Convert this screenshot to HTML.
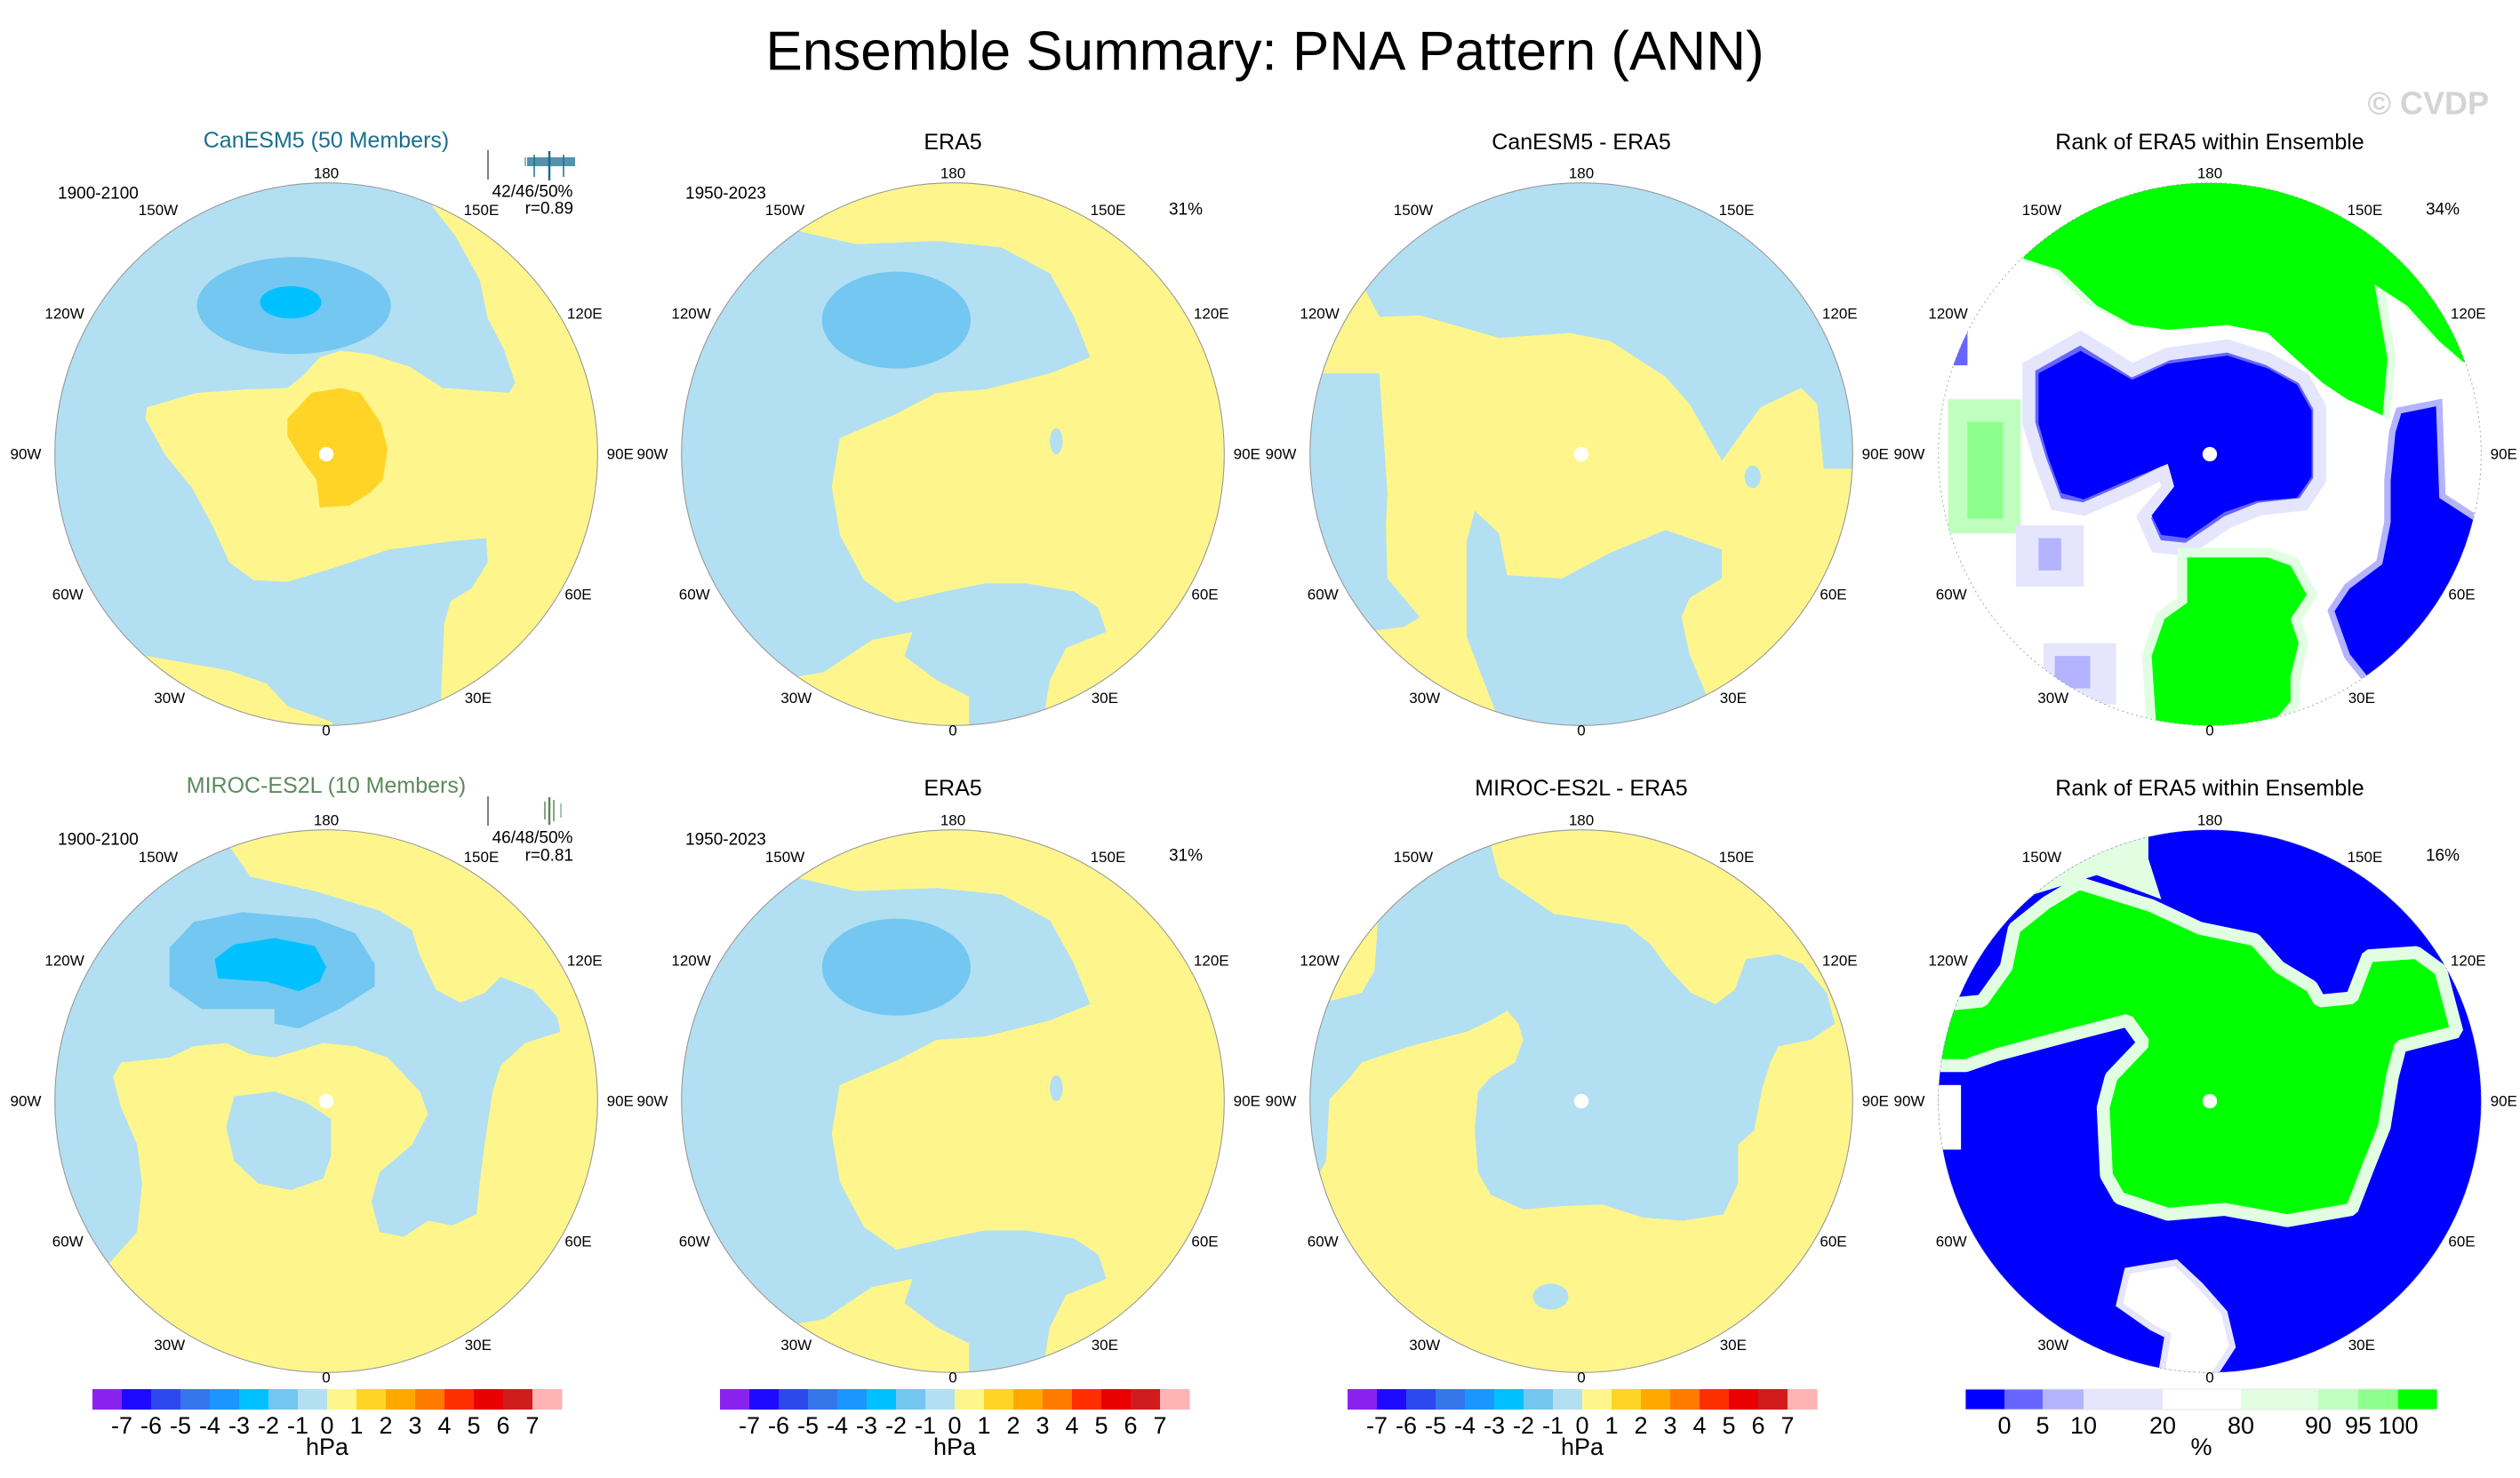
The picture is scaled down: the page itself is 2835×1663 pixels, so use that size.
<!DOCTYPE html>
<html><head><meta charset="utf-8">
<style>
html,body{margin:0;padding:0;background:#fff;}
svg{display:block;font-family:"Liberation Sans",Arial,sans-serif;}
.lon{font-size:17px;fill:#000;text-anchor:middle;dominant-baseline:central;}
.ptitle{font-size:25px;text-anchor:middle;dominant-baseline:central;}
.small{font-size:19px;fill:#000;dominant-baseline:central;}
.cbl{font-family:"Liberation Sans Narrow","Liberation Sans",sans-serif;font-size:27px;text-anchor:middle;dominant-baseline:central;fill:#000;}
</style></head>
<body>
<svg id="fig" width="2835" height="1663" viewBox="0 0 2835 1663" xmlns="http://www.w3.org/2000/svg">
<defs>
<clipPath id="cc"><circle cx="0" cy="0" r="168"/></clipPath>
</defs>
<text x="1423" y="58" font-size="62" text-anchor="middle" dominant-baseline="central">Ensemble Summary: PNA Pattern (ANN)</text>
<text x="2800" y="116" font-size="36" font-weight="bold" fill="#d4d4d4" text-anchor="end" dominant-baseline="central">© CVDP</text>

<g transform="translate(367,511) scale(1.8173)">
<g clip-path="url(#cc)">
<rect x="-170" y="-170" width="340" height="340" fill="#b3dff2"/>
<polygon fill="#fef68c" points="66,-200 66,-153 80,-135 95,-108 100,-84 110,-65 117,-44 113,-38 72,-41 52,-54 27,-62 9,-64 -4,-60 -14,-49 -24,-41 -50,-40 -80,-38 -111,-29 -112,-22 -100,0 -83,21 -70,45 -60,67 -45,78 -24,79 6,70 39,59 77,54 99,52 100,67 90,83 77,91 73,105 72,129 71,151 75,200 200,200 200,-200"/>
<polygon fill="#fef68c" points="-200,125 -111,125 -60,134 -37,142 -24,156 4,166 4,200 -200,200"/>
<polygon fill="#ffd426" points="-24,-22 -9,-38 9,-41 21,-38 34,-19 38,-3 35,16 27,24 14,32 -4,33 -6,16 -14,5 -24,-11"/>
<ellipse cx="-20" cy="-92" rx="60" ry="30" fill="#73c7f1"/>
<ellipse cx="-22" cy="-94" rx="19" ry="10" fill="#00c0ff"/>
<circle cx="0" cy="0" r="4.5" fill="#fff"/>
</g>
<circle cx="0" cy="0" r="168" fill="none" stroke="#999" stroke-width="0.6"/>
</g>

<g transform="translate(1072,511) scale(1.8173)">
<g clip-path="url(#cc)">
<rect x="-170" y="-170" width="340" height="340" fill="#fef68c"/>
<polygon fill="#b3dff2" points="-200,-200 -112,-200 -112,-156 -95,-138 -60,-130 -10,-132 30,-128 60,-112 75,-85 85,-60 60,-50 20,-40 -10,-38 -35,-25 -70,-10 -75,20 -70,50 -55,78 -35,92 -5,85 20,80 45,80 75,85 90,95 95,110 70,120 60,140 55,170 10,170 10,150 -10,140 -30,125 -25,110 -50,115 -80,135 -110,140 -200,140"/>
<ellipse cx="-35" cy="-83" rx="46" ry="30" fill="#73c7f1"/>
<ellipse cx="64" cy="-8" rx="4" ry="8" fill="#b3dff2"/>
</g>
<circle cx="0" cy="0" r="168" fill="none" stroke="#999" stroke-width="0.6"/>
</g>

<g transform="translate(1779,511) scale(1.8173)">
<g clip-path="url(#cc)">
<rect x="-170" y="-170" width="340" height="340" fill="#fef68c"/>
<polygon fill="#b3dff2" points="-200,-200 -200,-102 -134,-102 -125,-85 -100,-86 -51,-72 -7,-75 18,-70 52,-48 67,-31 87,4 111,-29 136,-41 146,-31 150,9 200,9 200,-200"/>
<polygon fill="#b3dff2" points="-200,-50 -125,-50 -120,25 -121,44 -120,77 -100,101 -110,107 -135,110 -200,110"/>
<polygon fill="#b3dff2" points="-51,200 -51,165 -71,113 -71,54 -66,35 -51,49 -46,75 -12,77 18,61 52,47 87,59 87,77 67,89 62,101 67,124 77,148 80,200"/>
<ellipse cx="106" cy="14" rx="5" ry="7" fill="#b3dff2"/>
<circle cx="0" cy="0" r="4.5" fill="#fff"/>
</g>
<circle cx="0" cy="0" r="168" fill="none" stroke="#999" stroke-width="0.6"/>
</g>

<g transform="translate(2486,511) scale(1.8173)">
<g clip-path="url(#cc)">
<rect x="-170" y="-170" width="340" height="340" fill="#fff"/>
<rect x="-162" y="-34" width="45" height="83" fill="#c0ffc0"/>
<rect x="-150" y="-20" width="22" height="60" fill="#8dff8d"/>
<rect x="-120" y="44" width="42" height="38" fill="#e5e5fe"/>
<rect x="-106" y="52" width="14" height="20" fill="#b3b3ff"/>
<rect x="-103" y="117" width="45" height="38" fill="#e5e5fe"/>
<rect x="-96" y="125" width="22" height="20" fill="#b3b3ff"/>
<rect x="-160" y="-85" width="10" height="30" fill="#6666ff"/>
<polygon fill="#c0ffc0" stroke="#e2fee2" stroke-width="10" points="-135,-200 -120,-126 -96,-119 -73,-97 -50,-85 -26,-82 11,-85 36,-80 52,-67 72,-49 87,-39 107,-29 110,-59 102,-110 122,-97 142,-75 157,-62 200,-62 200,-200"/>
<polygon fill="#00ff00" points="-130,-200 -115,-121 -93,-114 -70,-92 -48,-80 -26,-77 11,-80 36,-75 50,-62 70,-44 85,-34 107,-24 110,-59 102,-105 122,-92 142,-70 157,-57 200,-57 200,-200"/>
<polygon fill="#6666ff" stroke="#e5e5fe" stroke-width="8" points="-112,-54 -80,-72 -48,-52 -26,-62 11,-67 36,-59 58,-47 68,-29 68,16 58,31 31,34 11,42 -14,59 -33,57 -41,39 -26,21 -28,11 -48,21 -78,34 -95,31 -105,4 -112,-19"/>
<polygon fill="#0000ff" points="-106,-50 -80,-64 -48,-46 -26,-56 11,-61 36,-53 54,-43 63,-27 63,14 54,27 29,29 9,36 -14,52 -30,50 -36,38 -22,20 -26,6 -48,15 -78,28 -92,24 -100,2 -106,-19"/>
<polygon fill="#0000ff" stroke="#b3b3ff" stroke-width="4" points="117,-27 142,-32 144,26 164,39 200,60 200,170 97,140 85,125 75,97 85,82 105,67 110,42 110,16 113,-14"/>
<polygon fill="#8dff8d" stroke="#e2fee2" stroke-width="12" points="-14,64 36,64 50,69 60,87 50,102 55,117 50,138 50,153 36,170 -33,170 -36,125 -28,102 -14,92"/>
<polygon fill="#00ff00" points="-14,64 36,64 50,69 60,87 50,102 55,117 50,138 50,153 36,170 -33,170 -36,125 -28,102 -14,92"/>
<circle cx="0" cy="0" r="4.5" fill="#fff"/>
</g>
<circle cx="0" cy="0" r="168" fill="none" stroke="#999" stroke-width="0.5" stroke-dasharray="1,2"/>
</g>

<g transform="translate(367,1239) scale(1.8173)">
<g clip-path="url(#cc)">
<rect x="-170" y="-170" width="340" height="340" fill="#fef68c"/>
<polygon fill="#b3dff2" points="-200,-200 -60,-200 -60,-158 -47,-139 -7,-130 33,-118 53,-106 58,-90 68,-69 83,-61 98,-67 108,-77 128,-69 143,-52 145,-43 123,-36 108,-22 103,-6 98,27 95,51 93,70 78,77 63,74 48,84 33,81 28,62 33,44 53,27 63,8 58,-6 38,-27 18,-34 -2,-36 -32,-27 -47,-29 -62,-36 -82,-34 -97,-27 -127,-24 -132,-15 -127,4 -117,27 -114,51 -117,81 -134,100 -200,100"/>
<polygon fill="#b3dff2" points="-57,-3 -32,-6 -12,1 3,11 3,34 -2,48 -22,55 -42,51 -57,37 -62,16"/>
<polygon fill="#73c7f1" points="-97,-95 -82,-111 -52,-117 -7,-113 18,-104 30,-85 30,-71 8,-57 -17,-45 -32,-48 -32,-57 -77,-57 -97,-71"/>
<polygon fill="#00c0ff" points="-69,-88 -57,-97 -32,-101 -7,-96 0,-83 -4,-74 -17,-68 -37,-74 -67,-76"/>
<circle cx="0" cy="0" r="4.5" fill="#fff"/>
</g>
<circle cx="0" cy="0" r="168" fill="none" stroke="#999" stroke-width="0.6"/>
</g>

<g transform="translate(1072,1239) scale(1.8173)">
<g clip-path="url(#cc)">
<rect x="-170" y="-170" width="340" height="340" fill="#fef68c"/>
<polygon fill="#b3dff2" points="-200,-200 -112,-200 -112,-156 -95,-138 -60,-130 -10,-132 30,-128 60,-112 75,-85 85,-60 60,-50 20,-40 -10,-38 -35,-25 -70,-10 -75,20 -70,50 -55,78 -35,92 -5,85 20,80 45,80 75,85 90,95 95,110 70,120 60,140 55,170 10,170 10,150 -10,140 -30,125 -25,110 -50,115 -80,135 -110,140 -200,140"/>
<ellipse cx="-35" cy="-83" rx="46" ry="30" fill="#73c7f1"/>
<ellipse cx="64" cy="-8" rx="4" ry="8" fill="#b3dff2"/>
</g>
<circle cx="0" cy="0" r="168" fill="none" stroke="#999" stroke-width="0.6"/>
</g>

<g transform="translate(1779,1239) scale(1.8173)">
<g clip-path="url(#cc)">
<rect x="-170" y="-170" width="340" height="340" fill="#fef68c"/>
<polygon fill="#b3dff2" points="-200,-200 -56,-200 -56,-158 -51,-139 -17,-116 28,-109 43,-97 53,-83 68,-67 83,-60 95,-69 102,-88 122,-91 137,-85 152,-67 157,-48 142,-38 122,-34 117,-24 112,-8 107,18 97,27 97,51 88,70 63,74 38,72 13,64 -12,65 -36,67 -56,58 -64,44 -66,18 -64,-6 -56,-15 -41,-24 -36,-38 -39,-48 -46,-56 -56,-50 -71,-43 -106,-34 -136,-24 -143,-15 -156,-1 -158,37 -163,46 -200,46"/>
<polygon fill="#fef68c" points="-200,-120 -126,-111 -128,-81 -136,-67 -156,-62 -200,-62"/>
<ellipse cx="-19" cy="121" rx="11" ry="8" fill="#b3dff2"/>
<circle cx="0" cy="0" r="4.5" fill="#fff"/>
</g>
<circle cx="0" cy="0" r="168" fill="none" stroke="#999" stroke-width="0.6"/>
</g>

<g transform="translate(2486,1239) scale(1.8173)">
<g clip-path="url(#cc)">
<rect x="-170" y="-170" width="340" height="340" fill="#0000ff"/>
<polygon fill="#e2fee2" points="-200,-200 -38,-200 -38,-150 -30,-125 -70,-140 -200,-100"/>
<polygon fill="#00ff00" stroke="#e2fee2" stroke-width="8" stroke-linejoin="bevel" points="-81,-135 -36,-121 -6,-107 28,-100 43,-83 63,-71 68,-62 88,-64 98,-90 128,-92 143,-81 153,-43 118,-34 113,-15 108,16 98,41 88,67 48,74 9,67 -26,70 -56,60 -64,46 -66,4 -61,-15 -41,-36 -51,-50 -86,-41 -131,-29 -151,-22 -200,-22 -200,-60 -161,-60 -141,-62 -126,-83 -121,-107 -101,-123"/>
<polygon fill="#fff" stroke="#e5e5fe" stroke-width="4" points="-51,105 -21,100 -6,114 9,131 14,152 -1,175 -31,175 -26,145 -36,140 -56,126"/>
<rect x="-168" y="-10" width="14" height="40" fill="#fff"/>
<circle cx="0" cy="0" r="4.5" fill="#fff"/>
</g>
<circle cx="0" cy="0" r="168" fill="none" stroke="#999" stroke-width="0.5" stroke-dasharray="1,2"/>
</g>

<text class="ptitle" x="367" y="158" fill="#1a6f8f">CanESM5 (50 Members)</text>
<text class="ptitle" x="1072" y="160" fill="#000">ERA5</text>
<text class="ptitle" x="1779" y="160" fill="#000">CanESM5 - ERA5</text>
<text class="ptitle" x="2486" y="160" fill="#000">Rank of ERA5 within Ensemble</text>
<text class="ptitle" x="367" y="884" fill="#5b8a5b">MIROC-ES2L (10 Members)</text>
<text class="ptitle" x="1072" y="887" fill="#000">ERA5</text>
<text class="ptitle" x="1779" y="887" fill="#000">MIROC-ES2L - ERA5</text>
<text class="ptitle" x="2486" y="887" fill="#000">Rank of ERA5 within Ensemble</text>

<text class="small" x="65" y="218">1900-2100</text>
<text class="small" x="771" y="218">1950-2023</text>
<text class="small" x="65" y="945">1900-2100</text>
<text class="small" x="771" y="945">1950-2023</text>
<text class="small" x="1334" y="236" text-anchor="middle">31%</text>
<text class="small" x="1334" y="963" text-anchor="middle">31%</text>
<text class="small" x="2748" y="236" text-anchor="middle">34%</text>
<text class="small" x="2748" y="963" text-anchor="middle">16%</text>
<text class="small" x="599" y="216" text-anchor="middle">42/46/50%</text>
<text class="small" x="645" y="235" text-anchor="end">r=0.89</text>
<text class="small" x="599" y="943" text-anchor="middle">46/48/50%</text>
<text class="small" x="645" y="963" text-anchor="end">r=0.81</text>

<g>
<line x1="549" y1="169" x2="549" y2="202" stroke="#555" stroke-width="1.5"/>
<rect x="593" y="177" width="54" height="10" fill="#1a6f8f" opacity="0.75"/>
<line x1="618" y1="170" x2="618" y2="203" stroke="#1a6f8f" stroke-width="2.5"/>
<line x1="634" y1="174" x2="634" y2="199" stroke="#1a6f8f" stroke-width="1.5"/>
<line x1="601" y1="174" x2="601" y2="199" stroke="#1a6f8f" stroke-width="1.5"/>
<line x1="591" y1="177" x2="591" y2="187" stroke="#1a6f8f" stroke-width="1"/>
</g>
<g>
<line x1="549" y1="896" x2="549" y2="929" stroke="#555" stroke-width="1.5"/>
<line x1="613" y1="902" x2="613" y2="922" stroke="#5b8a5b" stroke-width="1.5"/>
<line x1="618" y1="897" x2="618" y2="928" stroke="#5b8a5b" stroke-width="2.5"/>
<line x1="623" y1="900" x2="623" y2="924" stroke="#5b8a5b" stroke-width="1.5"/>
<line x1="631" y1="904" x2="631" y2="920" stroke="#5b8a5b" stroke-width="1"/>
</g>

<g id="lonlabels"></g>
<g id="colorbars"></g>
</svg>
<script>
var NS = "http://www.w3.org/2000/svg";
var lonNames = ["180","150W","150E","120W","120E","90W","90E","60W","60E","30W","30E","0"];
var lonRelX = [0,-104,96,-162,160,-186,182,-160,156,-97,94,0];
var lonRelY = [-174,-151,-151,-87,-87,0,0,87,87,151,151,171];
var panelCX = [367,1072,1779,2486];
var panelCY = [511,1239];
var S = 1.8173;
var lg = document.getElementById("lonlabels");
for (var r = 0; r < panelCY.length; r++) {
  for (var c = 0; c < panelCX.length; c++) {
    for (var k = 0; k < lonNames.length; k++) {
      var t = document.createElementNS(NS, "text");
      t.setAttribute("class", "lon");
      t.setAttribute("x", panelCX[c] + lonRelX[k] * S);
      t.setAttribute("y", panelCY[r] + lonRelY[k] * S);
      t.textContent = lonNames[k];
      
      
      lg.appendChild(t);
    }
  }
}
var hpaColors = ["#8a22ee","#1e0bff","#2d48ec","#3576ea","#1b96fe","#00c0ff","#73c7f1","#b3dff2","#fef68c","#ffd426","#ffa900","#ff7b00","#ff2e00","#e90000","#d01c1c","#ffb3b3"];
var hpaTicks = ["-7","-6","-5","-4","-3","-2","-1","0","1","2","3","4","5","6","7"];
var hpaBarLeft = [104,810,1516];
var rankColors = ["#0000ff","#6666ff","#b3b3ff","#e5e5fe","#ffffff","#e2fee2","#c0ffc0","#8dff8d","#00ff00"];
var rankEdges = [2211,2255,2298,2344,2433,2521,2608,2653,2698,2742];
var rankTicks = ["0","5","10","20","80","90","95","100"];
var cb = document.getElementById("colorbars");
var barTop = 1563, barH = 23, tickY = 1604, unitY = 1628, boxW = 33;
function mk(tag){ return document.createElementNS(NS, tag); }
for (var b = 0; b < hpaBarLeft.length; b++) {
  var g = mk("g");
  
  
  for (var i = 0; i < hpaColors.length; i++) {
    var rc = mk("rect");
    rc.setAttribute("x", hpaBarLeft[b] + i * boxW);
    rc.setAttribute("y", barTop);
    rc.setAttribute("width", boxW + 0.5);
    rc.setAttribute("height", barH);
    rc.setAttribute("fill", hpaColors[i]);
    
    
    g.appendChild(rc);
  }
  for (var j = 0; j < hpaTicks.length; j++) {
    var tt = mk("text");
    tt.setAttribute("class", "cbl");
    tt.setAttribute("x", hpaBarLeft[b] + (j + 1) * boxW);
    tt.setAttribute("y", tickY);
    tt.textContent = hpaTicks[j];
    
    
    g.appendChild(tt);
  }
  var u = mk("text");
  u.setAttribute("class", "cbl");
  u.setAttribute("x", hpaBarLeft[b] + boxW * hpaColors.length / 2);
  u.setAttribute("y", unitY);
  u.textContent = "hPa";
  
  
  g.appendChild(u);
  cb.appendChild(g);
}
var g2 = mk("g");


for (var i2 = 0; i2 < rankColors.length; i2++) {
  var r2 = mk("rect");
  r2.setAttribute("x", rankEdges[i2]);
  r2.setAttribute("y", barTop);
  r2.setAttribute("width", rankEdges[i2 + 1] - rankEdges[i2] + 0.5);
  r2.setAttribute("height", barH);
  r2.setAttribute("fill", rankColors[i2]);
  
  
  g2.appendChild(r2);
}
var ob = mk("rect");
ob.setAttribute("x", rankEdges[0]); ob.setAttribute("y", barTop);
ob.setAttribute("width", rankEdges[rankEdges.length-1] - rankEdges[0]); ob.setAttribute("height", barH);
ob.setAttribute("fill", "none"); ob.setAttribute("stroke", "#e6e6e6"); ob.setAttribute("stroke-width", "1");


g2.appendChild(ob);
for (var j2 = 0; j2 < rankTicks.length; j2++) {
  var t2 = mk("text");
  t2.setAttribute("class", "cbl");
  t2.setAttribute("x", rankEdges[j2 + 1]);
  t2.setAttribute("y", tickY);
  t2.textContent = rankTicks[j2];
  
  
  g2.appendChild(t2);
}
var u2 = mk("text");
u2.setAttribute("class", "cbl");
u2.setAttribute("x", (rankEdges[0] + rankEdges[rankEdges.length-1]) / 2);
u2.setAttribute("y", unitY);
u2.textContent = "%";


g2.appendChild(u2);
cb.appendChild(g2);
</script>
</body></html>
